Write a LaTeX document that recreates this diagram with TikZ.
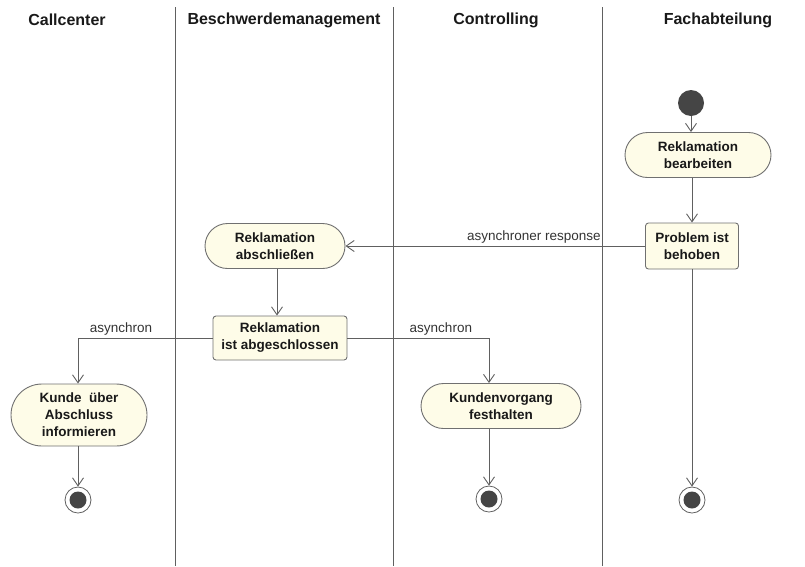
\documentclass[tikz,border=0pt]{standalone}
\usepackage{fontspec}
\setmainfont{Liberation Sans}
\usetikzlibrary{arrows.meta,shapes.misc}
\definecolor{boxfill}{HTML}{FEFCE8}
\definecolor{boxline}{HTML}{707070}
\definecolor{flowline}{HTML}{606060}
\definecolor{dot}{HTML}{454545}
\begin{document}
\begin{tikzpicture}[x=1pt, y=-1pt,
  lane/.style = {draw=flowline, line width=0.8pt},
  header/.style = {font=\fontsize{16}{18}\selectfont\bfseries, text=black!90},
  action/.style = {rounded rectangle, draw=boxline, fill=boxfill, line width=0.9pt, align=center,
    inner sep=2pt, font=\fontsize{13.5}{17}\selectfont\bfseries, text=black!90},
  signal/.style = {rectangle, rounded corners=3pt, draw=boxline, fill=boxfill, line width=0.9pt, align=center,
    inner sep=2pt, font=\fontsize{13.5}{17}\selectfont\bfseries, text=black!90},
  startnode/.style = {circle, fill=dot, minimum size=26pt, inner sep=0pt},
  endnode/.style = {circle, draw=flowline, fill=white, line width=0.8pt, minimum size=26pt, inner sep=0pt,
    path picture={\fill[dot] (path picture bounding box.center) circle (8.5pt);}},
  flow/.style = {draw=flowline, line width=0.9pt, -{Straight Barb[length=8pt, width=11pt]}},
  msg/.style = {font=\fontsize{13.5}{16}\selectfont, text=black!80, inner sep=2pt}]
\useasboundingbox (0,0) rectangle (805,566);

% swimlanes
\node[header] (callcenter) at (67,20) {Callcenter};
\node[header] (beschwerde) at (284,20) {Beschwerdemanagement};
\node[header] (controlling) at (496,20) {Controlling};
\node[header] (fach) at (718,20) {Fachabteilung};
\draw[lane] (175,7) -- (175,566);
\draw[lane] (393,7) -- (393,566);
\draw[lane] (602,7) -- (602,566);

% nodes
\node[startnode] (start) at (691,103) {};
\node[action, minimum width=150pt, minimum height=45pt] (bearbeiten) at (698,155) {Reklamation\\bearbeiten};
\node[signal, minimum width=93pt, minimum height=46pt] (behoben) at (692,246) {Problem ist\\behoben};
\node[action, minimum width=144pt, minimum height=45pt] (abschliessen) at (275,246) {Reklamation\\abschließen};
\node[signal, minimum width=134pt, minimum height=44pt] (abgeschlossen) at (280,338) {Reklamation\\ist abgeschlossen};
\node[action, minimum width=140pt, minimum height=62pt] (kunde) at (79,415) {Kunde~ über\\Abschluss\\informieren};
\node[action, minimum width=164pt, minimum height=45pt] (vorgang) at (501,406) {Kundenvorgang\\festhalten};
\node[endnode] (end1) at (78,500) {};
\node[endnode] (end2) at (489,499) {};
\node[endnode] (end3) at (692,500) {};

% connectors
\draw[flow] (start) -- (start |- bearbeiten.north);
\draw[flow] (behoben |- bearbeiten.south) -- (behoben.north);
\draw[flow] (behoben.west) -- node[msg, pos=0.14, anchor=south east] {asynchroner response} (abschliessen.east);
\draw[flow] (behoben.south) -- (end3.north);
\draw[flow] ([xshift=2pt]abschliessen.south) -- ([xshift=2pt]abschliessen.south |- abgeschlossen.north);
\draw[flow] (abgeschlossen.east) -| node[msg, pos=0.33, above] {asynchron} (end2 |- vorgang.north);
\draw[flow] (end2 |- vorgang.south) -- (end2.north);
\draw[flow] (abgeschlossen.west) -| node[msg, pos=0.34, above] {asynchron} (end1 |- kunde.north);
\draw[flow] (end1 |- kunde.south) -- (end1.north);
\end{tikzpicture}
\end{document}
